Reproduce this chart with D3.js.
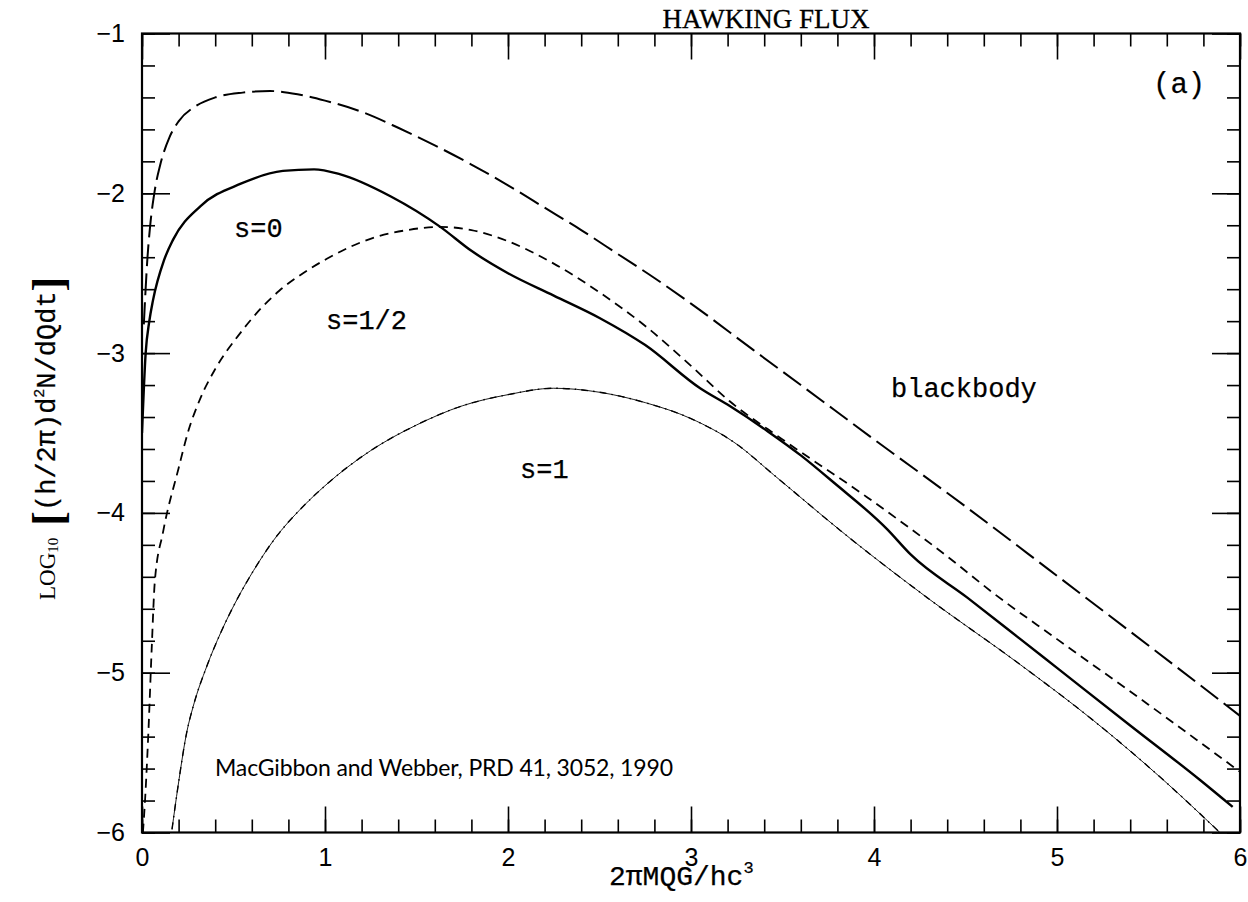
<!DOCTYPE html>
<html>
<head>
<meta charset="utf-8">
<script src="https://cdn.jsdelivr.net/npm/d3@7"></script>
<style>
body { margin: 0; background: #fff; }
svg { display: block; }
.mono { font-family: "Liberation Mono", "DejaVu Sans Mono", monospace; stroke: #000; stroke-width: 0.25px; }
</style>
</head>
<body>
<div id="container"></div>
<script>
// values: [x, log10 flux]
var blackbody = [[0.01,-2.82],[0.03,-2.4],[0.044,-2.21],[0.07,-1.98],[0.1,-1.82],[0.15,-1.65],[0.2,-1.55],[0.3,-1.45],[0.4,-1.4],[0.55,-1.37],[0.7,-1.36],[0.85,-1.38],[1.0,-1.42],[1.2,-1.49],[1.4,-1.59],[1.6,-1.7],[1.8,-1.82],[2.0,-1.95],[2.2,-2.09],[2.4,-2.23],[2.6,-2.38],[2.8,-2.53],[3.0,-2.69],[3.34,-2.98],[3.6,-3.2],[4.0,-3.54],[4.5,-3.96],[4.95,-4.35],[5.5,-4.83],[6.0,-5.27]]
var spin0 = [[0.0,-3.5],[0.02,-3.0],[0.04,-2.8],[0.06,-2.67],[0.12,-2.42],[0.17,-2.29],[0.32,-2.08],[0.54,-1.94],[0.77,-1.86],[0.94,-1.85],[1.08,-1.88],[1.36,-2.02],[1.63,-2.21],[1.8,-2.36],[2.0,-2.5],[2.25,-2.64],[2.5,-2.78],[2.75,-2.95],[3.05,-3.22],[3.21,-3.33],[3.42,-3.49],[3.6,-3.64],[3.78,-3.81],[4.07,-4.1],[4.2,-4.26],[4.51,-4.53],[4.8,-4.79],[5.0,-4.97],[5.4,-5.33],[5.78,-5.67],[5.96,-5.84]]
var spinHalf = [[0.005,-6.0],[0.017,-5.79],[0.035,-5.37],[0.053,-4.85],[0.07,-4.43],[0.115,-4.12],[0.2,-3.72],[0.25,-3.5],[0.32,-3.28],[0.4,-3.1],[0.54,-2.87],[0.65,-2.72],[0.75,-2.61],[0.88,-2.5],[1.01,-2.41],[1.26,-2.28],[1.45,-2.23],[1.63,-2.21],[1.8,-2.23],[2.0,-2.3],[2.25,-2.44],[2.5,-2.62],[2.75,-2.83],[3.0,-3.08],[3.21,-3.3],[3.5,-3.54],[3.96,-3.9],[4.42,-4.29],[4.65,-4.5],[5.0,-4.79],[5.5,-5.2],[6.0,-5.62]]
var spin1 = [[0.164,-5.98],[0.197,-5.71],[0.245,-5.37],[0.28,-5.21],[0.354,-4.96],[0.43,-4.75],[0.52,-4.54],[0.61,-4.36],[0.72,-4.17],[0.88,-3.96],[1.0,-3.83],[1.25,-3.61],[1.5,-3.45],[1.75,-3.33],[2.0,-3.26],[2.25,-3.22],[2.5,-3.245],[2.75,-3.31],[3.0,-3.41],[3.25,-3.57],[3.45,-3.76],[3.87,-4.16],[4.29,-4.53],[4.8,-4.95],[5.2,-5.3],[5.58,-5.67],[5.89,-6.0]]

var xMajor = [0,1,2,3,4,5,6]
var yMajor = [-6,-5,-4,-3,-2,-1]

var W = 1248, H = 902
var padL = 142, padR = 1240, padT = 33.5, padB = 832.5

var svg = d3.select("#container").append("svg").attr("width",W).attr("height",H)

var xScale = d3.scaleLinear().domain([0,6]).range([padL,padR])
var yScale = d3.scaleLinear().domain([-6,-1]).range([padB,padT])

svg.append("clipPath").attr("id","plotclip")
    .append("rect").attr("x",padL).attr("y",padT).attr("width",padR-padL).attr("height",padB-padT)

var xMinor = xScale.ticks(30)
var yMinor = yScale.ticks(25)

// ticks on all four sides, pointing in
function tickAxis(axis, vals, size, pos, pad){
    var g = svg.append("g").attr("transform",pos)
        .call(axis.tickValues(vals).tickSize(size).tickPadding(pad || 0)
        .tickFormat(pad ? d3.format("d") : ""))
    g.select(".domain").remove()
    g.selectAll("line").attr("stroke","#000").attr("stroke-width",1.6)
    g.selectAll("text").attr("font-family","Liberation Sans, Arial, sans-serif").attr("font-size",25).attr("fill","#000")
    return g
}
tickAxis(d3.axisBottom(xScale), xMinor, -13, "translate(0,"+padB+")")
tickAxis(d3.axisBottom(xScale), xMajor, -26, "translate(0,"+padB+")", 16)
tickAxis(d3.axisTop(xScale), xMinor, -13, "translate(0,"+padT+")")
tickAxis(d3.axisTop(xScale), xMajor, -26, "translate(0,"+padT+")")

tickAxis(d3.axisLeft(yScale), yMinor, -13, "translate("+padL+",0)")
tickAxis(d3.axisLeft(yScale), yMajor, -28, "translate("+padL+",0)", 17)
tickAxis(d3.axisRight(yScale), yMinor, -13, "translate("+padR+",0)")
tickAxis(d3.axisRight(yScale), yMajor, -28, "translate("+padR+",0)")

svg.append("rect").attr("x",padL).attr("y",padT).attr("width",padR-padL).attr("height",padB-padT)
    .attr("fill","none").attr("stroke","#000").attr("stroke-width",2.2)

var line = d3.line().curve(d3.curveMonotoneX)
    .x(function(d){return xScale(d[0])})
    .y(function(d){return yScale(d[1])})

var plot = svg.append("g").attr("clip-path","url(#plotclip)")

plot.append("path").attr("d",line(blackbody)).attr("fill","none").attr("stroke","#000")
    .attr("stroke-width",2).attr("stroke-dasharray","22,7")
plot.append("path").attr("d",line(spinHalf)).attr("fill","none").attr("stroke","#000")
    .attr("stroke-width",1.8).attr("stroke-dasharray","9,6")
plot.append("path").attr("d",line(spin0)).attr("fill","none").attr("stroke","#000")
    .attr("stroke-width",2.4)
plot.append("path").attr("d",line(spin1)).attr("fill","none").attr("stroke","#000")
    .attr("stroke-width",0.9)
// dot-dash curve lying on top of the s=1 one
plot.append("path").attr("d",line(spin1)).attr("fill","none").attr("stroke","#000")
    .attr("stroke-width",1.4).attr("stroke-dasharray","7,5,1.5,5")

// labels
svg.append("text").attr("x",766).attr("y",28).attr("text-anchor","middle")
    .attr("font-family","Liberation Serif, Times New Roman, serif").attr("font-size",27)
    .attr("stroke","#000").attr("stroke-width",0.3)
    .text("HAWKING FLUX")

svg.append("text").attr("class","mono").attr("x",1153).attr("y",93).attr("font-size",29).text("(a)")
svg.append("text").attr("class","mono").attr("x",234).attr("y",237).attr("font-size",27).text("s=0")
svg.append("text").attr("class","mono").attr("x",326).attr("y",329).attr("font-size",27).text("s=1/2")
svg.append("text").attr("class","mono").attr("x",520).attr("y",478).attr("font-size",27).text("s=1")
svg.append("text").attr("class","mono").attr("x",891).attr("y",397).attr("font-size",27).text("blackbody")

svg.append("text").attr("x",215).attr("y",776)
    .attr("font-family","Comic Sans MS, Lato, sans-serif").attr("font-size",23)
    .attr("textLength",458).attr("lengthAdjust","spacing")
    .text("MacGibbon and Webber, PRD 41, 3052, 1990")

// x axis title
var xt = svg.append("text").attr("class","mono").attr("x",609).attr("y",885).attr("font-size",28)
xt.append("tspan").text("2πMQG/hc")
xt.append("tspan").attr("font-size",17).attr("dy",-12).text("3")

// y axis title, rotated
var yt = svg.append("text").attr("transform","translate(55,600) rotate(-90)")
yt.append("tspan").attr("font-family","Liberation Serif, serif").attr("font-size",23).text("LOG")
yt.append("tspan").attr("font-family","Liberation Serif, serif").attr("font-size",15).attr("dy",3).text("10")
yt.append("tspan").attr("font-family","Liberation Serif, serif").attr("font-weight","bold").attr("font-size",44).attr("dy",5).attr("dx",12).text("[")
yt.append("tspan").attr("class","mono").attr("font-size",27).attr("dy",-8).text("(h/2π)d")
yt.append("tspan").attr("class","mono").attr("font-size",15).attr("dy",-11).text("2")
yt.append("tspan").attr("class","mono").attr("font-size",27).attr("dy",11).text("N/dQdt")
yt.append("tspan").attr("font-family","Liberation Serif, serif").attr("font-weight","bold").attr("font-size",44).attr("dy",8).text("]")
</script>
</body>
</html>
